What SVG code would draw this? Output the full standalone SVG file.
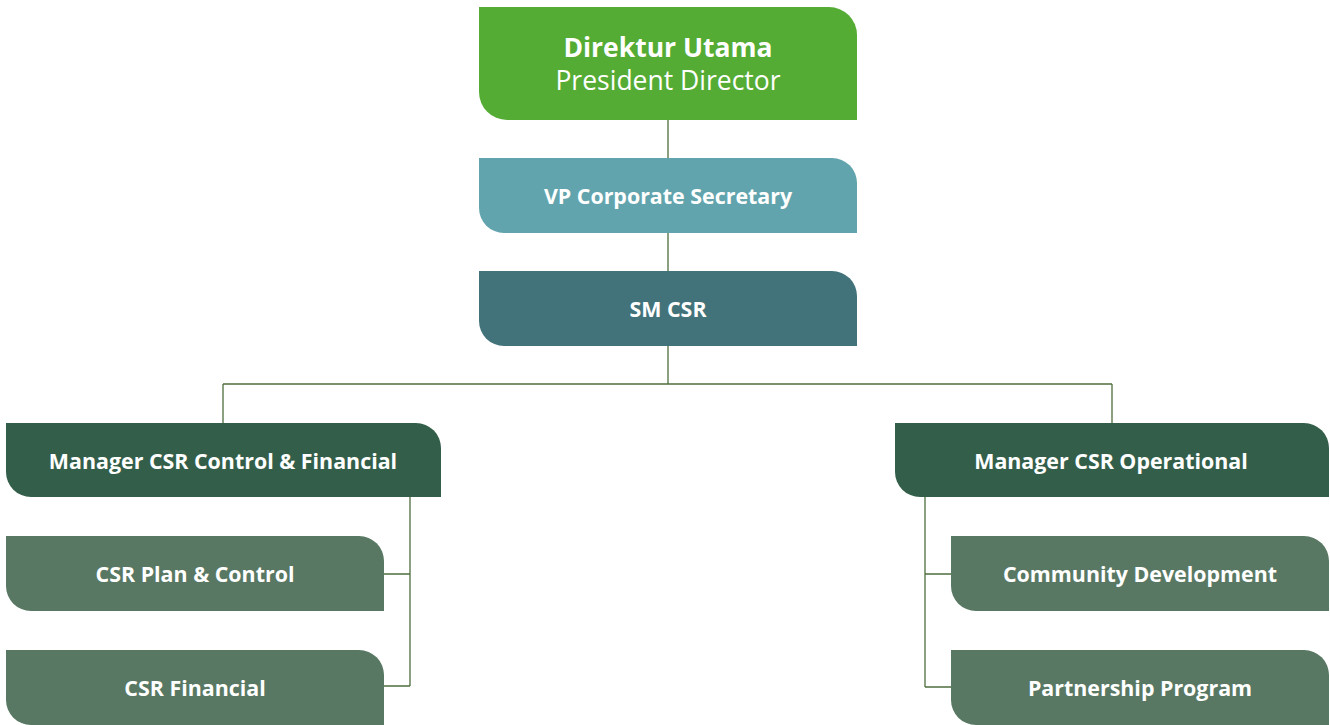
<svg xmlns="http://www.w3.org/2000/svg" width="1330" height="725" viewBox="0 0 1330 725">
<style>
.t{font-family:"Open Sans","Noto Sans",sans-serif;fill:#fff;text-anchor:middle}
.b{font-weight:700;font-size:21.4px}
.line{stroke:#4d6e3c;stroke-width:1.3;fill:none}
</style>
<rect width="1330" height="725" fill="#fff"/>
<g id="connectors">
<path class="line" d="M668 120V384M223 384H1112M223 384V423M1112 384V423"/>
<path class="line" d="M410 497V686M384 574H410M384 686H410"/>
<path class="line" d="M925 497V687M925 574H951M925 687H951"/>
</g>
<g id="president">
<path d="M479 7H829A28 28 0 0 1 857 35V120H507A28 28 0 0 1 479 92Z" fill="#55ac34"/>
<text class="t" x="668" y="57" font-size="26.5" font-weight="700">Direktur Utama</text>
<text class="t" x="668" y="90" font-size="26.5">President Director</text>
</g>
<g id="vp">
<path d="M479 158H832A25 25 0 0 1 857 183V233H504A25 25 0 0 1 479 208Z" fill="#62a4ad"/>
<text class="t b" x="668" y="204">VP Corporate Secretary</text>
</g>
<g id="sm">
<path d="M479 271H832A25 25 0 0 1 857 296V346H504A25 25 0 0 1 479 321Z" fill="#43737a"/>
<text class="t b" x="668" y="317">SM CSR</text>
</g>
<g id="mgr-control">
<path d="M6 423H416A25 25 0 0 1 441 448V497H31A25 25 0 0 1 6 472Z" fill="#335e4a"/>
<text class="t b" x="223" y="469">Manager CSR Control &amp; Financial</text>
</g>
<g id="mgr-operational">
<path d="M895 423H1304A25 25 0 0 1 1329 448V497H920A25 25 0 0 1 895 472Z" fill="#335e4a"/>
<text class="t b" x="1111" y="469">Manager CSR Operational</text>
</g>
<g id="plan-control">
<path d="M6 536H359A25 25 0 0 1 384 561V611H31A25 25 0 0 1 6 586Z" fill="#587863"/>
<text class="t b" x="195" y="582">CSR Plan &amp; Control</text>
</g>
<g id="financial">
<path d="M6 650H359A25 25 0 0 1 384 675V725H31A25 25 0 0 1 6 700Z" fill="#587863"/>
<text class="t b" x="195" y="696">CSR Financial</text>
</g>
<g id="community">
<path d="M951 536H1304A25 25 0 0 1 1329 561V611H976A25 25 0 0 1 951 586Z" fill="#587863"/>
<text class="t b" x="1140" y="582">Community Development</text>
</g>
<g id="partnership">
<path d="M951 650H1304A25 25 0 0 1 1329 675V725H976A25 25 0 0 1 951 700Z" fill="#587863"/>
<text class="t b" x="1140" y="696">Partnership Program</text>
</g>
</svg>
